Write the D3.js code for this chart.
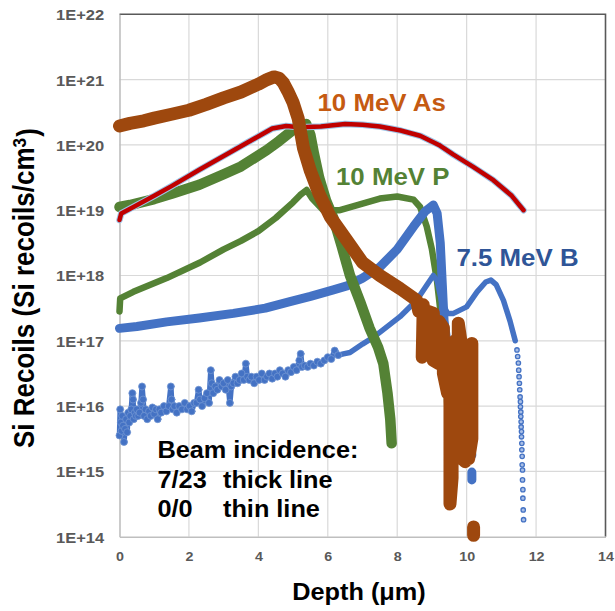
<!DOCTYPE html>
<html>
<head>
<meta charset="utf-8">
<script src="https://cdn.jsdelivr.net/npm/d3@7"></script>
<style>
  html, body { margin: 0; padding: 0; background: #fff; }
  svg { display: block; font-family: "Liberation Sans", Arial, sans-serif; }
</style>
</head>
<body>
<svg id="chart" width="615" height="611"></svg>
<script>
// ---- Axis ticks ----
const xTickValues = [0, 2, 4, 6, 8, 10, 12, 14];
const yTickValues = [1e14, 1e15, 1e16, 1e17, 1e18, 1e19, 1e20, 1e21, 1e22];
const yTickLabels = ["1E+14", "1E+15", "1E+16", "1E+17", "1E+18", "1E+19", "1E+20", "1E+21", "1E+22"];

// ---- 10 MeV As, beam 7/23 (thick) ; null marks a break in the trace ----
const asThickDepth = [0, 0.3, 0.7, 1.0, 1.5, 2.0, 2.5, 3.0, 3.5, 4.0, 4.25, 4.45, 4.6, 4.72, 4.85, 5.0, 5.15, 5.3, 5.5, 5.75, 6.07, 6.55, 7.0, 7.5, 8.08, 8.56,
  8.62, 8.75, 8.72, 8.82, 8.9, 9.04, 9.04, 9.2, 9.2, 9.33, 9.33, 9.45, 9.45, 9.52, 9.52, 9.58, 9.58, 9.66, 9.66, 9.76, 9.76, 9.86, 9.86, 9.96, 9.96, 10.06, 10.06, 10.15, 10.15,
  null, 10.2, 10.2];
const asThickValue = [1.95e20, 2.14e20, 2.34e20, 2.57e20, 2.95e20, 3.39e20, 4.17e20, 5.25e20, 6.46e20, 8.51e20, 1.0e21, 1.10e21, 1.05e21, 8.91e20, 6.61e20, 4.47e20, 2.51e20, 8.91e19, 3.98e19, 1.78e19, 7.94e18, 3.47e18, 1.58e18, 1.0e18, 6.31e17, 4.17e17,
  2.82e17, 3.55e17, 5.62e16, 1.26e17, 2.82e17, 2.63e17, 5.01e16, 4.47e16, 2.0e17, 1.58e17, 3.16e16, 1.58e16, 7.94e16, 3.16e16, 3.16e14, 7.94e14, 3.98e16, 1.0e17, 2.0e15, 2.0e15, 1.86e17, 7.94e16, 1.58e15, 1.41e15, 5.01e16, 6.31e16, 1.58e15, 3.16e15, 9.12e16,
  null, 1.41e14, 1.05e14];

// ---- 10 MeV As, beam 0/0 (thin) ----
const asThinDepth = [0, 0.05, 0.4, 1.0, 1.5, 2.3, 3.0, 3.7, 4.4, 4.8, 5.2, 5.8, 6.5, 7.0, 7.5, 8.1, 8.66, 9.2, 9.62, 10.2, 10.77, 11.3, 11.64];
const asThinValue = [7.08e18, 8.91e18, 1.12e19, 1.66e19, 2.34e19, 4.17e19, 6.76e19, 1.10e20, 1.78e20, 1.95e20, 1.86e20, 1.91e20, 2.09e20, 2.04e20, 1.91e20, 1.66e20, 1.38e20, 1.0e20, 7.08e19, 4.57e19, 2.88e19, 1.66e19, 1.0e19];

// ---- 10 MeV P, beam 7/23 (thick) ----
const pThickDepth = [0, 0.3, 1.0, 1.5, 2.3, 3.0, 3.5, 4.24, 4.6, 5.0, 5.2, 5.38, 5.5, 5.6, 5.75, 5.95, 6.16, 6.4, 6.64, 6.93, 7.2, 7.45, 7.6, 7.72, 7.8, 7.84];
const pThickValue = [1.12e19, 1.20e19, 1.48e19, 1.78e19, 2.45e19, 3.55e19, 4.68e19, 8.32e19, 1.15e20, 1.70e20, 1.95e20, 2.09e20, 1.41e20, 7.41e19, 3.16e19, 1.41e19, 7.59e18, 2.82e18, 1.0e18, 3.98e17, 1.58e17, 7.94e16, 4.47e16, 1.58e16, 6.31e15, 2.69e15];

// ---- 10 MeV P, beam 0/0 (thin) ----
const pThinDepth = [0, 0.02, 0.4, 1.36, 2.32, 3.0, 3.5, 4.0, 4.5, 5.0, 5.2, 5.39, 5.55, 5.87, 6.35, 7.0, 7.5, 8.0, 8.47, 8.66, 8.85, 9.0, 9.15, 9.3, 9.4, 9.45];
const pThinValue = [2.82e17, 4.47e17, 5.62e17, 9.12e17, 1.58e18, 2.51e18, 3.39e18, 4.79e18, 7.59e18, 1.32e19, 1.70e19, 2.04e19, 1.51e19, 1.0e19, 1.0e19, 1.26e19, 1.51e19, 1.62e19, 1.45e19, 1.12e19, 5.62e18, 2.51e18, 7.94e17, 1.58e17, 3.16e16, 7.94e15];

// ---- 7.5 MeV B, beam 7/23 (thick) ----
const bThickDepth = [0, 0.5, 1.36, 2.3, 3.28, 4.2, 4.91, 5.5, 6.16, 6.55, 7.0, 7.5, 8.0, 8.47, 8.8, 9.04, 9.15, 9.24, 9.3, 9.35, 9.45, 9.67, 9.9, 10.1, 10.15, null, 10.15, 10.15];
const bThickValue = [1.55e17, 1.66e17, 1.95e17, 2.24e17, 2.63e17, 3.16e17, 3.98e17, 4.79e17, 6.03e17, 6.92e17, 9.12e17, 1.35e18, 2.51e18, 5.62e18, 9.55e18, 1.20e19, 8.91e18, 3.16e18, 7.08e17, 2.0e17, 7.94e16, 2.51e16, 7.94e15, 2.82e15, 1.78e15, null, 9.77e14, 7.41e14];

// ---- 7.5 MeV B, beam 0/0 (thin): noisy shallow part, smooth deep part ----
const bThinDepth = [0, 0.02, 0.04, 0.06, 0.08, 0.10, 0.13, 0.16, 0.19, 0.22, 0.25, 0.28, 0.31, 0.34, 0.37, 0.39, 0.41, 0.44, 0.47, 0.50,
  0.54, 0.58, 0.62, 0.65, 0.68, 0.71, 0.75, 0.80, 0.85, 0.90, 0.95, 1.00, 1.05, 1.10, 1.15, 1.20, 1.28, 1.35, 1.42, 1.48,
  1.50, 1.53, 1.58, 1.65, 1.72, 1.80, 1.88, 1.95, 2.02, 2.08, 2.15, 2.22, 2.28, 2.32, 2.38, 2.45, 2.52, 2.58, 2.63, 2.66,
  2.70, 2.76, 2.82, 2.88, 2.94, 3.00, 3.06, 3.12, 3.18, 3.22, 3.28, 3.34, 3.40, 3.46, 3.52, 3.58, 3.64, 3.68, 3.74, 3.80,
  3.88, 3.95, 4.02, 4.10, 4.18, 4.25, 4.32, 4.40, 4.48, 4.55, 4.62, 4.70, 4.78, 4.86, 4.94, 5.02, 5.10, 5.18, 5.22, 5.26,
  5.34, 5.42, 5.50, 5.60, 5.70, 5.80, 5.90, 6.00, 6.10, 6.20, 6.30,
  6.45, 6.64, 7.0, 7.3, 7.6, 8.08, 8.56, 8.85, 9.04, 9.15, 9.28, 9.45, 9.62, 10.0, 10.3, 10.55, 10.7, 10.85, 11.06, 11.25, 11.4];
const bThinValue = [3.55e15, 8.91e15, 5.62e15, 4.17e15, 7.08e15, 5.01e15, 2.82e15, 4.47e15, 6.31e15, 3.98e15, 7.94e15, 5.62e15, 7.08e15, 8.91e15, 1.58e16, 1.26e16, 6.31e15, 7.94e15, 7.08e15, 8.91e15,
  7.08e15, 7.94e15, 1.12e16, 2.0e16, 1.26e16, 7.08e15, 8.91e15, 6.31e15, 8.32e15, 7.08e15, 9.55e15, 7.59e15, 8.91e15, 6.31e15, 8.91e15, 7.94e15, 1.0e16, 8.32e15, 1.0e16, 2.0e16,
  1.26e16, 8.91e15, 1.0e16, 7.94e15, 1.0e16, 8.91e15, 1.12e16, 8.91e15, 1.0e16, 8.32e15, 1.12e16, 1.12e16, 1.78e16, 1.26e16, 1.0e16, 1.32e16, 1.58e16, 1.12e16, 3.55e16, 2.24e16,
  1.58e16, 2.0e16, 1.78e16, 2.51e16, 2.0e16, 2.24e16, 1.78e16, 2.51e16, 1.12e16, 2.0e16, 2.24e16, 2.82e16, 2.24e16, 2.51e16, 3.16e16, 2.51e16, 4.47e16, 2.82e16, 2.51e16, 2.82e16,
  2.24e16, 2.82e16, 2.51e16, 3.16e16, 2.51e16, 2.82e16, 3.16e16, 2.63e16, 3.16e16, 2.82e16, 3.55e16, 3.16e16, 2.82e16, 3.55e16, 3.31e16, 3.98e16, 3.55e16, 5.01e16, 6.31e16, 3.98e16,
  4.17e16, 3.98e16, 4.47e16, 4.17e16, 4.79e16, 4.47e16, 5.01e16, 5.62e16, 5.25e16, 7.08e16, 6.03e16,
  6.31e16, 6.61e16, 8.91e16, 1.12e17, 1.48e17, 2.34e17, 4.17e17, 7.08e17, 1.0e18, 8.32e17, 3.98e17, 2.63e17, 2.63e17, 3.31e17, 5.62e17, 7.94e17, 8.51e17, 7.24e17, 4.17e17, 2.0e17, 1.0e17];
// deep tail of the thin B profile, shown as separate markers
const bTailDepth = [11.45, 11.47, 11.49, 11.50, 11.51, 11.52, 11.53, 11.54, 11.55, 11.55, 11.56, 11.56, 11.57, 11.57, 11.58, 11.58, 11.59, 11.59, 11.60, 11.60, 11.61, 11.61, 11.62, 11.62, 11.63, 11.64];
const bTailValue = [7.24e16, 5.75e16, 4.57e16, 3.55e16, 2.82e16, 2.24e16, 1.78e16, 1.38e16, 1.17e16, 9.77e15, 8.13e15, 6.92e15, 5.75e15, 4.79e15, 4.07e15, 3.39e15, 2.69e15, 2.14e15, 1.70e15, 1.26e15, 1.05e15, 7.41e14, 5.25e14, 3.89e14, 2.57e14, 1.82e14];
const bNoisyCount = 111; // number of leading bThin points drawn as markers

// ---- Chart ----
const svg = d3.select("#chart");
const plotLeft = 119.5, plotRight = 605.5, plotTop = 14.3, plotBottom = 536.7;
const x = d3.scaleLinear().domain([0, 14]).range([plotLeft, plotRight]);
const y = d3.scaleLog().domain([1e14, 1e22]).range([plotBottom, plotTop]);
const SX = 1.1; // horizontal stretch applied to all text

const zip = (ds, vs) => ds.map((d, i) => ({ d: d, v: vs[i] }));
const line = d3.line()
  .defined(p => p.d != null && p.v != null)
  .x(p => x(p.d)).y(p => y(p.v));

// gridlines
const grid = svg.append("g");
grid.selectAll("line.v").data(xTickValues.slice(1, -1)).join("line")
  .attr("x1", d => x(d)).attr("x2", d => x(d)).attr("y1", plotTop).attr("y2", plotBottom)
  .attr("stroke", "#d9d9d9").attr("stroke-width", 1.2);
grid.selectAll("line.h").data(yTickValues.slice(1, -1)).join("line")
  .attr("x1", plotLeft).attr("x2", plotRight).attr("y1", d => y(d)).attr("y2", d => y(d))
  .attr("stroke", "#d9d9d9").attr("stroke-width", 1.2);

// plot frame: darker top and right edges
svg.append("path")
  .attr("d", `M${plotLeft},${plotTop}H${plotRight}V${plotBottom}`)
  .attr("fill", "none").attr("stroke", "#595959").attr("stroke-width", 1.6);

// axes
const xAxis = svg.append("g").attr("transform", `translate(0,${plotBottom})`)
  .call(d3.axisBottom(x).tickValues(xTickValues).tickSize(0).tickSizeOuter(0).tickPadding(15).tickFormat(d3.format("d")));
const yAxis = svg.append("g").attr("transform", `translate(${plotLeft},0)`)
  .call(d3.axisLeft(y).tickValues(yTickValues).tickSize(0).tickSizeOuter(0).tickPadding(14)
    .tickFormat((d, i) => yTickLabels[i]));
[xAxis, yAxis].forEach(g => {
  g.select(".domain").attr("stroke", "#bfbfbf").attr("stroke-width", 1.6);
  g.selectAll(".tick line").remove();
  g.selectAll(".tick text")
    .attr("fill", "#595959").attr("font-weight", "bold")
    .attr("font-family", "'Liberation Sans', Arial, sans-serif")
    .attr("transform", `scale(${SX},1)`);
});
xAxis.selectAll(".tick text").attr("font-size", 13);
yAxis.selectAll(".tick text").attr("font-size", 15).attr("dy", "0.36em");

// series
const plot = svg.append("g").attr("fill", "none")
  .attr("stroke-linecap", "round").attr("stroke-linejoin", "round");

function trace(data, color, width) {
  plot.append("path").attr("d", line(data)).attr("stroke", color).attr("stroke-width", width);
}

const bThin = zip(bThinDepth, bThinValue);
trace(zip(pThinDepth, pThinValue), "#548235", 6.5);
trace(bThin, "#4472C4", 5.5);
plot.append("g").selectAll("circle").data(bThin.slice(0, bNoisyCount)).join("circle")
  .attr("cx", p => x(p.d)).attr("cy", p => y(p.v)).attr("r", 3.5)
  .attr("fill", "#4472C4").attr("stroke", "#7094d2").attr("stroke-width", 0.8);
plot.append("g").selectAll("circle").data(zip(bTailDepth, bTailValue)).join("circle")
  .attr("cx", p => x(p.d)).attr("cy", p => y(p.v)).attr("r", 2.2)
  .attr("fill", "#a9bfe6").attr("stroke", "#4472C4").attr("stroke-width", 1.3);
trace(zip(bThickDepth, bThickValue), "#4472C4", 9);
trace(zip(pThickDepth, pThickValue), "#548235", 10.5);
const asThin = zip(asThinDepth, asThinValue);
trace(asThin, "#9dc3e6", 6.5);
trace(asThin, "#c00000", 4.5);
trace(zip(asThickDepth, asThickValue), "#9e480e", 13);

// text
function label(str, px, py, size, color, anchor) {
  return svg.append("text")
    .attr("transform", `translate(${px},${py}) scale(${SX},1)`)
    .attr("text-anchor", anchor || "start")
    .attr("font-size", size).attr("font-weight", "bold").attr("fill", color)
    .text(str);
}
label("10 MeV As", 317.5, 110.7, 23.5, "#c55a11");
label("10 MeV P", 336, 185, 23.5, "#548235");
label("7.5 MeV B", 456.5, 266, 23.5, "#2f5597");
label("Beam incidence:", 157.5, 458.3, 23, "#000");
label("7/23", 157.5, 487.5, 23, "#000");
label("thick line", 223, 487.5, 23, "#000");
label("0/0", 157.5, 517, 23, "#000");
label("thin line", 223, 517, 23, "#000");

// axis titles
label("Depth (μm)", 359, 600, 23, "#000", "middle");
const yTitle = svg.append("text")
  .attr("transform", `translate(34,288) scale(${SX},1) rotate(-90)`)
  .attr("text-anchor", "middle").attr("font-size", 26).attr("font-weight", "bold").attr("fill", "#000");
yTitle.append("tspan").text("Si Recoils (Si recoils/cm");
yTitle.append("tspan").attr("dy", "-0.45em").attr("font-size", "0.66em").text("3");
yTitle.append("tspan").attr("dy", "0.45em").attr("dx", "0.05em").text(")");
</script>
</body>
</html>
